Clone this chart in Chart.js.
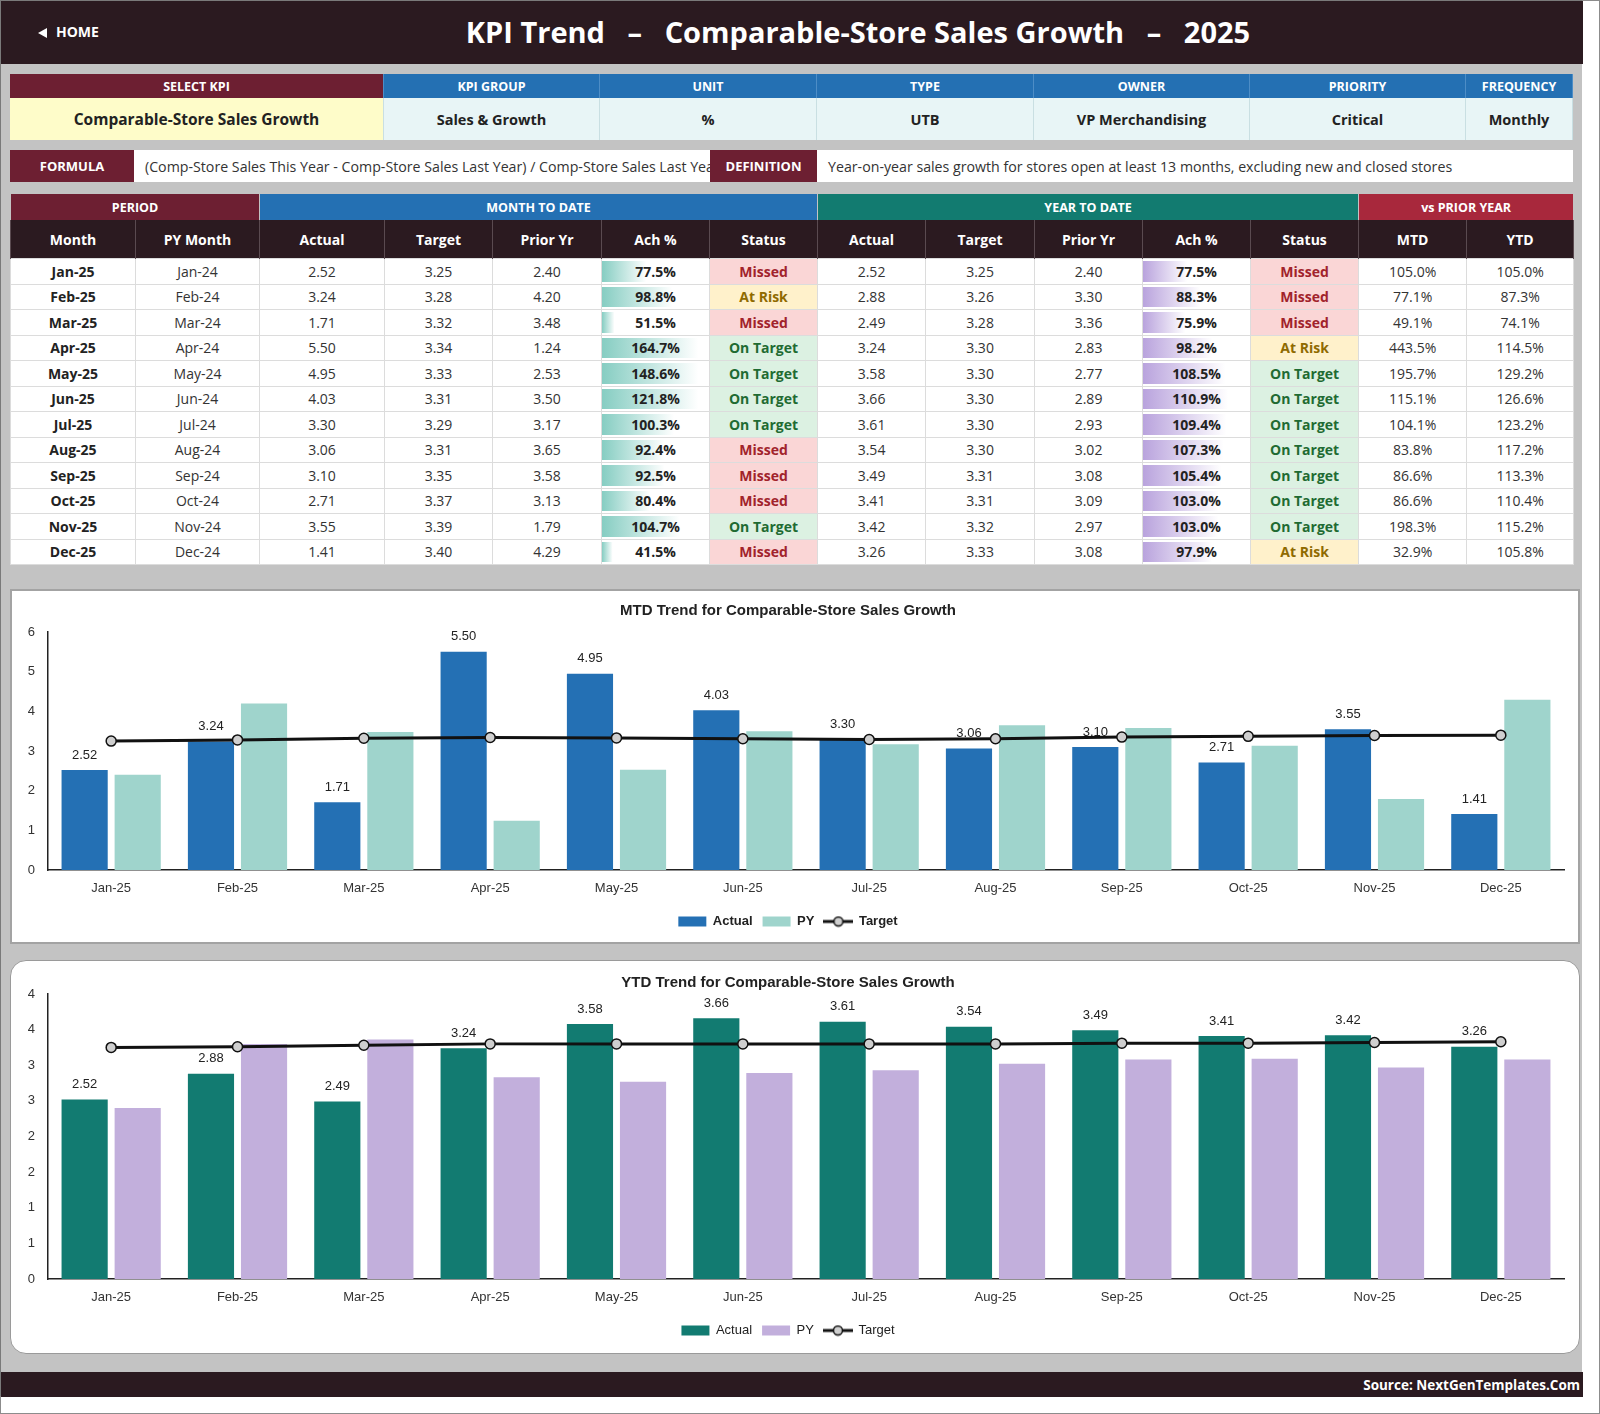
<!DOCTYPE html>
<html>
<head>
<meta charset="utf-8">
<title>KPI Trend - Comparable-Store Sales Growth - 2025</title>
<script src="https://cdn.jsdelivr.net/npm/chart.js@4.4.1/dist/chart.umd.min.js"></script>
<style>
html, body { margin: 0; padding: 0; }
body { width: 1600px; height: 1414px; position: relative; overflow: hidden; background: #fff; font-family: "Open Sans", "Noto Sans", sans-serif; color: #222; }
#frame { position: absolute; left: 0; top: 0; width: 1598px; height: 1412px; border: 1px solid #8c8c8c; }
#sheet { position: absolute; left: 0; top: 0; width: 1582px; height: 1396px; background: #c3c3c3; border-left: 1px solid #7a7a7a; border-top: 1px solid #7a7a7a; box-sizing: border-box; }
#topbar { position: absolute; left: 0; top: 0; width: 1582px; height: 63px; background: #2b1a20; }
#home { position: absolute; left: 37px; top: 21px; color: #fff; font-weight: 700; font-size: 14px; line-height: 20px; }
#home .tri { display: inline-block; width: 0; height: 0; border-top: 5px solid transparent; border-bottom: 5px solid transparent; border-right: 9px solid #fff; margin-right: 9px; vertical-align: -1px; }
#title { position: absolute; left: 132px; width: 1450px; top: 10px; text-align: center; color: #fff; font-weight: 700; font-size: 29px; line-height: 42px; white-space: pre; }

#kpi { position: absolute; left: 9px; top: 73px; width: 1563px; display: grid; grid-template-columns: 374px 216px 217px 217px 216px 216px 107px; grid-template-rows: 24px 42px; }
#kpi div { display: flex; align-items: center; justify-content: center; box-sizing: border-box; }
#kpi .h { background: #2470b3; color: #fff; font-weight: 700; font-size: 12.5px; border-right: 1px solid #4d8dc6; }
#kpi .h.sel { background: #6d1f32; }
#kpi .v { background: #e8f5f6; font-weight: 700; font-size: 14.5px; border-right: 1px solid #c9dfe2; }
#kpi .v.sel { background: #fefcc9; font-size: 15.5px; }

#formula { position: absolute; left: 9px; top: 149px; width: 1563px; height: 32px; display: flex; }
#formula div { box-sizing: border-box; height: 32px; display: flex; align-items: center; white-space: nowrap; overflow: hidden; }
#formula .lab { background: #6d1f32; color: #fff; font-weight: 700; font-size: 13px; justify-content: center; }
#formula .txt { background: #fff; font-size: 14.2px; color: #333; padding-left: 11px; }

#main { position: absolute; left: 9px; top: 193px; width: 1563px; border-collapse: collapse; table-layout: fixed; }
#main td, #main th { padding: 0; text-align: center; overflow: hidden; white-space: nowrap; }
#main tr.g th { height: 26px; color: #fff; font-size: 12.5px; font-weight: 700; border: 1px solid #c3c3c3; border-bottom: none; border-top: none; }
#main tr.c th { height: 38px; background: #2b1a20; color: #fff; font-size: 14px; font-weight: 700; border-left: 1px solid #5a4a50; border-right: 1px solid #5a4a50; }
#main tbody td { height: 24.5px; background: #fff; font-size: 14px; color: #333; border: 1px solid #dcdcdc; }
#main tbody td.m { font-weight: 700; color: #222; }
#main tbody td.a { font-weight: 700; color: #222; background-repeat: no-repeat; background-position: left center; }
#main tbody td.s { font-weight: 700; }
.Missed { background: #fad6d6 !important; color: #a1232b !important; }
.AtRisk { background: #fff1cb !important; color: #8f6a00 !important; }
.OnTarget { background: #dcf1e2 !important; color: #1f6b32 !important; }

.panel { position: absolute; background: #fff; box-sizing: border-box; }
#p1 { left: 9px; top: 588px; width: 1570px; height: 355px; border: 2px solid #a3a3a3; }
#p2 { left: 9px; top: 959px; width: 1570px; height: 394px; border: 1px solid #9a9a9a; border-radius: 16px; }
canvas { position: absolute; }

#footer { position: absolute; left: 0; top: 1371px; width: 1582px; height: 25px; background: #2b1a20; }
#footer span { position: absolute; right: 3px; top: 2px; color: #fff; font-weight: 700; font-size: 13.5px; line-height: 22px; }
</style>
</head>
<body>
<div id="frame"></div>
<div id="sheet">
  <div id="topbar">
    <div id="home"><span class="tri"></span>HOME</div>
    <div id="title">KPI Trend   –   Comparable-Store Sales Growth   –   2025</div>
  </div>

  <div id="kpi">
    <div class="h sel">SELECT KPI</div><div class="h">KPI GROUP</div><div class="h">UNIT</div><div class="h">TYPE</div><div class="h">OWNER</div><div class="h">PRIORITY</div><div class="h">FREQUENCY</div>
    <div class="v sel">Comparable-Store Sales Growth</div><div class="v">Sales &amp; Growth</div><div class="v">%</div><div class="v">UTB</div><div class="v">VP Merchandising</div><div class="v">Critical</div><div class="v">Monthly</div>
  </div>

  <div id="formula">
    <div class="lab" style="width:124px">FORMULA</div>
    <div class="txt" style="width:576px">(Comp-Store Sales This Year - Comp-Store Sales Last Year) / Comp-Store Sales Last Year</div>
    <div class="lab" style="width:107px">DEFINITION</div>
    <div class="txt" style="width:756px">Year-on-year sales growth for stores open at least 13 months, excluding new and closed stores</div>
  </div>

  <table id="main">
    <colgroup>
      <col style="width:125px"><col style="width:124px"><col style="width:125px"><col style="width:108px"><col style="width:109px"><col style="width:108px"><col style="width:108px">
      <col style="width:108px"><col style="width:109px"><col style="width:108px"><col style="width:108px"><col style="width:108px"><col style="width:108px"><col style="width:107px">
    </colgroup>
    <thead>
      <tr class="g">
        <th colspan="2" style="background:#6d1f32">PERIOD</th>
        <th colspan="5" style="background:#2470b3">MONTH TO DATE</th>
        <th colspan="5" style="background:#127b70">YEAR TO DATE</th>
        <th colspan="2" style="background:#a8283c">vs PRIOR YEAR</th>
      </tr>
      <tr class="c">
        <th>Month</th><th>PY Month</th><th>Actual</th><th>Target</th><th>Prior Yr</th><th>Ach %</th><th>Status</th>
        <th>Actual</th><th>Target</th><th>Prior Yr</th><th>Ach %</th><th>Status</th><th>MTD</th><th>YTD</th>
      </tr>
    </thead>
    <tbody id="rows"></tbody>
  </table>

  <div class="panel" id="p1"><canvas id="mtdChart" width="1566" height="351" style="left:0;top:0"></canvas></div>
  <div class="panel" id="p2"><canvas id="ytdChart" width="1566" height="390" style="left:1px;top:1px"></canvas></div>

  <div id="footer"><span>Source: NextGenTemplates.Com</span></div>
</div>

<script>
const months = ['Jan-25', 'Feb-25', 'Mar-25', 'Apr-25', 'May-25', 'Jun-25', 'Jul-25', 'Aug-25', 'Sep-25', 'Oct-25', 'Nov-25', 'Dec-25'];
const pyMonths = ['Jan-24', 'Feb-24', 'Mar-24', 'Apr-24', 'May-24', 'Jun-24', 'Jul-24', 'Aug-24', 'Sep-24', 'Oct-24', 'Nov-24', 'Dec-24'];

const mtdActual = [2.52, 3.24, 1.71, 5.50, 4.95, 4.03, 3.30, 3.06, 3.10, 2.71, 3.55, 1.41];
const mtdTarget = [3.25, 3.28, 3.32, 3.34, 3.33, 3.31, 3.29, 3.31, 3.35, 3.37, 3.39, 3.40];
const mtdPrior = [2.40, 4.20, 3.48, 1.24, 2.53, 3.50, 3.17, 3.65, 3.58, 3.13, 1.79, 4.29];
const mtdAch = [77.5, 98.8, 51.5, 164.7, 148.6, 121.8, 100.3, 92.4, 92.5, 80.4, 104.7, 41.5];
const mtdStatus = ['Missed', 'At Risk', 'Missed', 'On Target', 'On Target', 'On Target', 'On Target', 'Missed', 'Missed', 'Missed', 'On Target', 'Missed'];

const ytdActual = [2.52, 2.88, 2.49, 3.24, 3.58, 3.66, 3.61, 3.54, 3.49, 3.41, 3.42, 3.26];
const ytdTarget = [3.25, 3.26, 3.28, 3.30, 3.30, 3.30, 3.30, 3.30, 3.31, 3.31, 3.32, 3.33];
const ytdPrior = [2.40, 3.30, 3.36, 2.83, 2.77, 2.89, 2.93, 3.02, 3.08, 3.09, 2.97, 3.08];
const ytdAch = [77.5, 88.3, 75.9, 98.2, 108.5, 110.9, 109.4, 107.3, 105.4, 103.0, 103.0, 97.9];
const ytdStatus = ['Missed', 'Missed', 'Missed', 'At Risk', 'On Target', 'On Target', 'On Target', 'On Target', 'On Target', 'On Target', 'On Target', 'At Risk'];

const vsPyMtd = [105.0, 77.1, 49.1, 443.5, 195.7, 115.1, 104.1, 83.8, 86.6, 86.6, 198.3, 32.9];
const vsPyYtd = [105.0, 87.3, 74.1, 114.5, 129.2, 126.6, 123.2, 117.2, 113.3, 110.4, 115.2, 105.8];

// data bar range of the Ach % columns (percent)
const barMin = 50;
const barMax = 120;

// ---- table ----
function dataBar(v, color) {
  // excel style bar: shortest 10%, longest 90% of the cell
  const t = Math.max(0, Math.min(1, (v - barMin) / (barMax - barMin)));
  const w = 10 + t * 80;
  return `background-image:linear-gradient(90deg, ${color} 0%, #ffffff 100%);background-size:${w.toFixed(1)}% calc(100% - 4px);`;
}

const rowsEl = document.getElementById('rows');
rowsEl.innerHTML = months.map((m, i) => `
  <tr>
    <td class="m">${m}</td>
    <td>${pyMonths[i]}</td>
    <td>${mtdActual[i].toFixed(2)}</td>
    <td>${mtdTarget[i].toFixed(2)}</td>
    <td>${mtdPrior[i].toFixed(2)}</td>
    <td class="a" style="${dataBar(mtdAch[i], '#86cdc2')}">${mtdAch[i].toFixed(1)}%</td>
    <td class="s ${mtdStatus[i].replace(' ', '')}">${mtdStatus[i]}</td>
    <td>${ytdActual[i].toFixed(2)}</td>
    <td>${ytdTarget[i].toFixed(2)}</td>
    <td>${ytdPrior[i].toFixed(2)}</td>
    <td class="a" style="${dataBar(ytdAch[i], '#b9a3dd')}">${ytdAch[i].toFixed(1)}%</td>
    <td class="s ${ytdStatus[i].replace(' ', '')}">${ytdStatus[i]}</td>
    <td>${vsPyMtd[i].toFixed(1)}%</td>
    <td>${vsPyYtd[i].toFixed(1)}%</td>
  </tr>`).join('');

// ---- charts ----
const tickFont = { family: '"Liberation Sans", Arial, sans-serif', size: 13 };

// legend icon for the target line (line with a round marker)
const targetIcon = document.createElement('canvas');
targetIcon.width = 30;
targetIcon.height = 12;
(function () {
  const c = targetIcon.getContext('2d');
  c.strokeStyle = '#111';
  c.lineWidth = 3;
  c.beginPath(); c.moveTo(0, 6); c.lineTo(30, 6); c.stroke();
  c.beginPath(); c.arc(15, 6, 4.5, 0, Math.PI * 2);
  c.fillStyle = '#cfcfcf'; c.fill();
  c.lineWidth = 1.5; c.stroke();
})();

const barLabels = {
  id: 'barLabels',
  afterDatasetDraw(chart, args) {
    if (args.index !== 0) return;
    const ctx = chart.ctx;
    const values = chart.data.datasets[0].data;
    ctx.save();
    ctx.font = '13px "Liberation Sans", Arial, sans-serif';
    ctx.fillStyle = '#222';
    ctx.textAlign = 'center';
    ctx.textBaseline = 'middle';
    args.meta.data.forEach((bar, i) => {
      ctx.fillText(values[i].toFixed(2), bar.x, bar.y - 15);
    });
    ctx.restore();
  }
};

function trendChart(id, opt) {
  return new Chart(document.getElementById(id), {
    type: 'bar',
    data: {
      labels: months,
      datasets: [
        { label: 'Actual', data: opt.actual, backgroundColor: opt.actualColor, categoryPercentage: 0.84, barPercentage: 0.87 },
        { label: 'PY', data: opt.prior, backgroundColor: opt.priorColor, categoryPercentage: 0.84, barPercentage: 0.87 },
        {
          type: 'line', label: 'Target', data: opt.target, order: -1,
          borderColor: '#111', borderWidth: 3, pointRadius: 5, pointHoverRadius: 5,
          pointBackgroundColor: '#cfcfcf', pointBorderColor: '#111', pointBorderWidth: 1.5
        }
      ]
    },
    options: {
      responsive: false,
      animation: false,
      layout: { padding: { left: 0, right: 14, top: 0, bottom: opt.padBottom } },
      scales: {
        x: {
          grid: { display: false, drawTicks: false },
          border: { display: true, color: '#222', width: 1.5 },
          ticks: { font: tickFont, color: '#333', padding: 11 },
          afterFit: s => { s.height = 35; }
        },
        y: {
          min: 0, max: opt.max,
          grid: { display: false, drawTicks: false },
          border: { display: true, color: '#222', width: 1.5 },
          ticks: { stepSize: opt.step, font: tickFont, color: '#333', padding: 13, callback: opt.tickFmt },
          afterFit: s => { s.width = 36; }
        }
      },
      plugins: {
        title: {
          display: true, text: opt.title, color: '#222',
          font: { family: '"Liberation Sans", Arial, sans-serif', size: 15, weight: 'bold' },
          padding: opt.titlePad
        },
        legend: {
          position: 'bottom',
          labels: {
            usePointStyle: true, pointStyleWidth: 28, boxHeight: 10, padding: 10, color: '#222',
            font: { family: '"Liberation Sans", Arial, sans-serif', size: 13, weight: opt.legendWeight },
            sort: (a, b) => a.datasetIndex - b.datasetIndex,
            generateLabels(chart) {
              const items = Chart.defaults.plugins.legend.labels.generateLabels(chart);
              items.forEach(it => { it.pointStyle = it.datasetIndex === 2 ? targetIcon : 'rect'; it.lineWidth = 0; });
              return items;
            }
          }
        },
        tooltip: { enabled: false }
      }
    },
    plugins: [barLabels]
  });
}

trendChart('mtdChart', {
  title: 'MTD Trend for Comparable-Store Sales Growth',
  actual: mtdActual, prior: mtdPrior, target: mtdTarget,
  actualColor: '#2470b4', priorColor: '#9fd4cc',
  max: 6, step: 1, tickFmt: v => v,
  titlePad: { top: 11, bottom: 12 }, padBottom: 4, legendWeight: 'bold'
});

trendChart('ytdChart', {
  title: 'YTD Trend for Comparable-Store Sales Growth',
  actual: ytdActual, prior: ytdPrior, target: ytdTarget,
  actualColor: '#127b71', priorColor: '#c2afdc',
  max: 4, step: 0.5, tickFmt: v => Math.round(v),
  titlePad: { top: 12, bottom: 2 }, padBottom: 5, legendWeight: 'normal'
});
</script>
</body>
</html>
